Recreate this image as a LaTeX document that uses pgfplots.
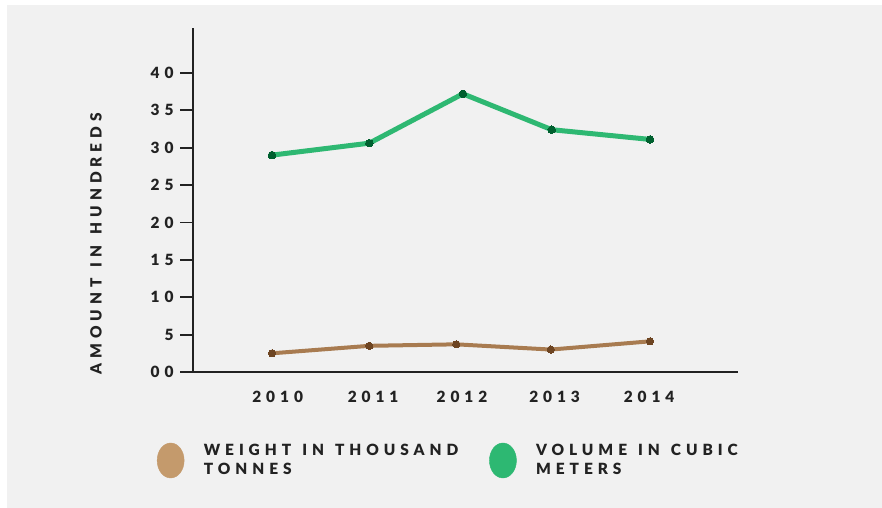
\documentclass[border=0pt]{standalone}
\usepackage{fontspec}
\usepackage{pgfplots}
\pgfplotsset{compat=1.18}
\setmainfont{Lato}[LetterSpace=32, WordSpace=1.3, UprightFont=* Black]
\definecolor{panel}{HTML}{F1F1F1}
\definecolor{txt}{HTML}{222222}
\definecolor{gline}{HTML}{2EB872}
\definecolor{gmark}{HTML}{00602F}
\definecolor{bline}{HTML}{A87B50}
\definecolor{bmark}{HTML}{6E4522}
\definecolor{bleg}{HTML}{C49A6C}
\definecolor{gleg}{HTML}{2DB872}
\begin{document}
\begin{tikzpicture}
\fill[white] (0,0) rectangle (882bp,508bp);
\fill[panel] (7bp,0) rectangle (882bp,503bp);
\begin{axis}[
  at={(193bp,136bp)}, anchor=south west,
  scale only axis, width=545bp, height=344bp,
  xmin=-0.836, xmax=4.931, ymin=0, ymax=46,
  axis lines*=left,
  axis line style={-, line width=1.8bp, txt},
  xtick={0.06,1.07,2.01,2.99,3.99},
  xticklabels={2010,2011,2012,2013,2014},
  ytick={0,5,...,40},
  yticklabels={00,5,10,15,20,25,30,35,40},
  tick style={line width=1.8bp, txt},
  x tick style={draw=none},
  tick align=outside,
  major tick length=13bp,
  tick label style={font=\fontsize{15.5}{18}\selectfont, text=txt},
  yticklabel style={xshift=-3bp},
  xticklabel style={yshift=-3bp},
  ylabel={AMOUNT IN HUNDREDS},
  ylabel style={at={(axis description cs:-0.178,0.373)}, anchor=center, rotate=0, font=\fontsize{15.5}{18}\selectfont, text=txt},
  legend columns=2,
  legend style={at={(axis description cs:-0.072,-0.166)}, anchor=north west, draw=none, fill=none,
    font=\fontsize{15.5}{19}\selectfont, text=txt,
    nodes={inner sep=0pt, align=left},
    /tikz/every odd column/.append style={column sep=19.5bp},
    /tikz/every even column/.append style={column sep=31bp}},
  legend cell align=left,
  clip=false,
]
\addplot[forget plot, bline, line width=4bp, mark=*, mark size=3.6bp, mark options={fill=bmark, draw=bmark, line width=0pt}]
  coordinates {(0,2.5) (1.03,3.5) (1.95,3.7) (2.95,3.0) (4,4.1)};
\addplot[forget plot, gline, line width=5bp, mark=*, mark size=3.8bp, mark options={fill=gmark, draw=gmark, line width=0pt}]
  coordinates {(0,29.0) (1.03,30.6) (2.02,37.2) (2.96,32.4) (4,31.1)};
\addlegendimage{legend image code/.code={\path (13.5bp,29bp); \fill[bleg] (13.5bp,0) ellipse [x radius=13.5bp, y radius=17.5bp];}}
\addlegendentry{WEIGHT IN THOUSAND\\TONNES}
\addlegendimage{legend image code/.code={\path (13.5bp,29bp); \fill[gleg] (13.5bp,0) ellipse [x radius=13.5bp, y radius=17.5bp];}}
\addlegendentry{VOLUME IN CUBIC\\METERS}
\end{axis}
\pgfresetboundingbox
\useasboundingbox (0,0) rectangle (882bp,508bp);
\end{tikzpicture}
\end{document}
